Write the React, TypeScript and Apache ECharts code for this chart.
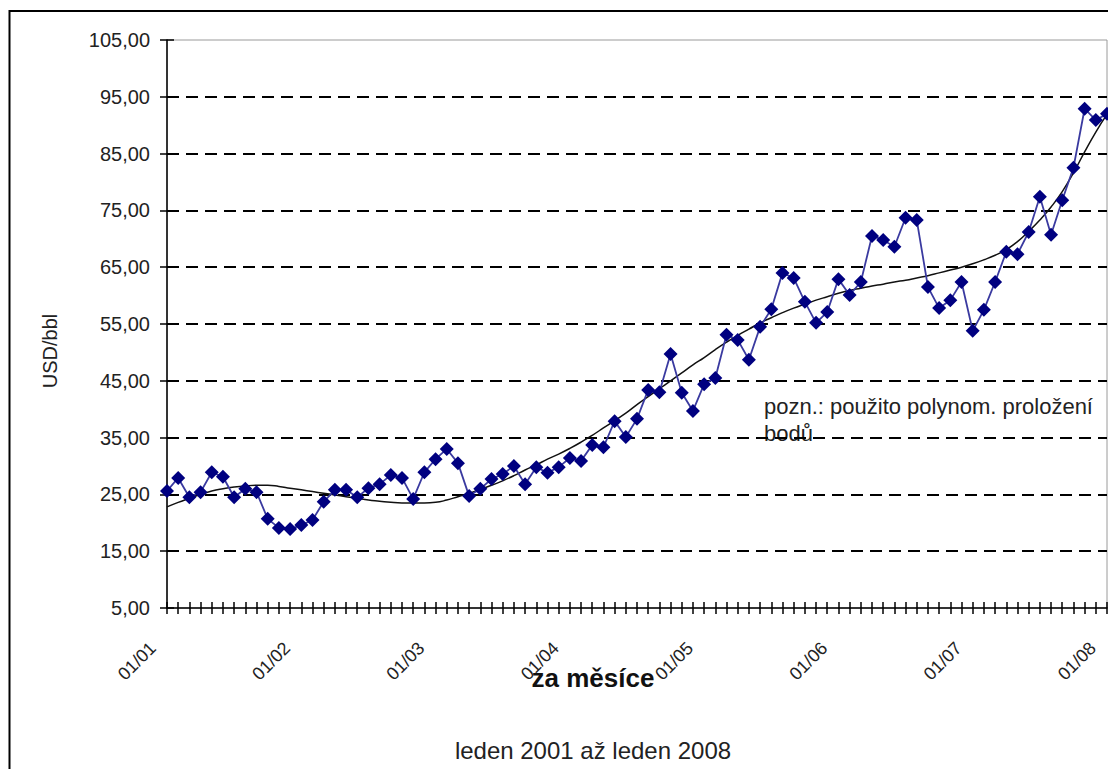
import React, { useEffect, useRef } from "react";
import * as echarts from "echarts";

const years = ["01", "02", "03", "04", "05", "06", "07", "08"];
const months = ["01", "02", "03", "04", "05", "06", "07", "08", "09", "10", "11", "12"];
const categories: string[] = [];
years.forEach((y, yi) => {
  months.forEach((m, mi) => {
    if (yi < years.length - 1 || mi === 0) categories.push(`${m}/${y}`);
  });
});

// monthly price, USD/bbl
const prices = [
  25.6, 27.9, 24.5, 25.4, 28.9, 28.1, 24.5, 26.0, 25.4, 20.7, 19.1, 18.9,
  19.6, 20.5, 23.7, 25.8, 25.8, 24.5, 26.1, 26.8, 28.4, 27.9, 24.2, 28.9,
  31.2, 33.0, 30.5, 24.7, 26.0, 27.7, 28.6, 30.0, 26.8, 29.8, 28.8, 29.8,
  31.4, 30.9, 33.7, 33.3, 37.9, 35.1, 38.3, 43.4, 43.0, 49.7, 42.9, 39.7,
  44.4, 45.5, 53.1, 52.2, 48.7, 54.5, 57.6, 64.0, 63.1, 58.9, 55.2, 57.1,
  62.9, 60.1, 62.4, 70.5, 69.8, 68.6, 73.7, 73.3, 61.5, 57.8, 59.2, 62.4,
  53.8, 57.5, 62.4, 67.7, 67.3, 71.2, 77.4, 70.7, 76.8, 82.5, 92.9, 90.9,
  92.0,
];

// polynomial trend line
const trend = [
  22.8, 23.6, 24.3, 25.0, 25.6, 26.0, 26.3, 26.5, 26.6, 26.6, 26.4, 26.1,
  25.8, 25.5, 25.2, 24.9, 24.6, 24.3, 24.0, 23.8, 23.6, 23.5, 23.5, 23.5,
  23.6, 24.0, 24.6, 25.2, 25.9, 26.6, 27.4, 28.3, 29.3, 30.2, 31.2, 32.1,
  33.1, 34.2, 35.4, 36.7, 38.0, 39.3, 40.8, 42.2, 43.6, 45.0, 46.4, 47.8,
  49.1, 50.5, 51.8, 53.0, 54.1, 55.2, 56.1, 57.0, 57.8, 58.5, 59.2, 59.8,
  60.4, 60.9, 61.3, 61.7, 62.0, 62.4, 62.7, 63.1, 63.5, 64.0, 64.5, 65.0,
  65.6, 66.3, 67.1, 68.1, 69.5, 71.3, 73.3, 75.6, 78.3, 81.6, 85.3, 88.8,
  91.9,
];

const yMin = 5;
const yMax = 105;
const yStep = 10;

const yTitle = "USD/bbl";
const xTitle = "za měsíce";
const subTitle = "leden 2001 až leden 2008";
const note1 = "pozn.: použito polynom. proložení";
const note2 = "bodů";

const FONT = "'Liberation Sans', Arial, sans-serif";

export default function App() {
  const ref = useRef<HTMLDivElement>(null);
  useEffect(() => {
    if (!ref.current) return;
    const chart = echarts.init(ref.current, undefined, { renderer: "svg" });
    const fmt = (v: number) => v.toFixed(2).replace(".", ",");
    chart.setOption({
      animation: false,
      backgroundColor: "#ffffff",
      textStyle: { fontFamily: FONT },
      grid: {
        left: 167,
        right: 1,
        top: 40,
        bottom: 161,
        outerBoundsMode: "none",
        containLabel: false,
        show: true,
        borderColor: "#9a9a9a",
        borderWidth: 1,
        backgroundColor: "transparent",
      },
      xAxis: [
        {
          type: "category",
          data: categories,
          boundaryGap: false,
          position: "bottom",
          axisLine: { lineStyle: { color: "#000", width: 1.5 } },
          axisTick: { show: true, interval: 0, length: 6, lineStyle: { color: "#000", width: 1.5 } },
          axisLabel: {
            interval: 11,
            rotate: 45,
            margin: 23,
            padding: [0, 20, 0, 0],
            fontSize: 18,
            color: "#222",
            fontFamily: FONT,
          },
          splitLine: { show: false },
        },
        {
          type: "category",
          data: categories,
          boundaryGap: false,
          position: "bottom",
          axisLine: { show: false },
          axisTick: { show: true, inside: true, interval: 0, length: 6, lineStyle: { color: "#000", width: 1.5 } },
          axisLabel: { show: false },
          splitLine: { show: false },
        },
      ],
      yAxis: [
        {
          type: "value",
          min: yMin,
          max: yMax,
          interval: yStep,
          position: "left",
          axisLine: { show: true, lineStyle: { color: "#000", width: 1.5 } },
          axisTick: { show: true, length: 7, lineStyle: { color: "#000", width: 1.5 } },
          axisLabel: {
            margin: 17,
            fontSize: 20,
            color: "#222",
            fontFamily: FONT,
            formatter: fmt,
          },
          splitLine: {
            show: true,
            showMinLine: false,
            showMaxLine: false,
            lineStyle: { color: "#000", type: [12, 7], width: 2 },
          },
        },
        {
          type: "value",
          min: yMin,
          max: yMax,
          interval: yStep,
          position: "left",
          axisLine: { show: false },
          axisTick: { show: true, inside: true, length: 7, lineStyle: { color: "#000", width: 1.5 } },
          axisLabel: { show: false },
          splitLine: { show: false },
        },
      ],
      series: [
        {
          type: "line",
          name: "trend",
          data: trend,
          smooth: true,
          showSymbol: false,
          symbol: "none",
          lineStyle: { color: "#111", width: 1.5 },
          z: 2,
        },
        {
          type: "line",
          name: "cena",
          data: prices,
          symbol: "diamond",
          symbolSize: 14,
          showAllSymbol: true,
          itemStyle: { color: "#000080" },
          lineStyle: { color: "#3a3aa0", width: 1.8 },
          z: 3,
        },
      ],
      graphic: [
        {
          type: "rect",
          shape: { x: 9.5, y: 11, width: 1200, height: 800 },
          style: { fill: "none", stroke: "#000", lineWidth: 2 },
          silent: true,
          z: 100,
        },
        {
          type: "text",
          x: 50,
          y: 351,
          rotation: Math.PI / 2,
          style: {
            text: yTitle,
            fontSize: 20,
            fontFamily: FONT,
            fill: "#222",
            textAlign: "center",
            textVerticalAlign: "middle",
          },
        },
        {
          type: "text",
          x: 593,
          y: 678,
          style: {
            text: xTitle,
            fontSize: 26,
            fontWeight: "bold",
            fontFamily: FONT,
            fill: "#111",
            textAlign: "center",
            textVerticalAlign: "middle",
          },
        },
        {
          type: "text",
          x: 593,
          y: 750,
          style: {
            text: subTitle,
            fontSize: 24,
            fontFamily: FONT,
            fill: "#222",
            textAlign: "center",
            textVerticalAlign: "middle",
          },
        },
        {
          type: "text",
          x: 764,
          y: 406,
          style: {
            text: note1,
            fontSize: 22,
            fontFamily: FONT,
            fill: "#222",
            textAlign: "left",
            textVerticalAlign: "middle",
          },
        },
        {
          type: "text",
          x: 764,
          y: 433,
          style: {
            text: note2,
            fontSize: 22,
            fontFamily: FONT,
            fill: "#222",
            textAlign: "left",
            textVerticalAlign: "middle",
          },
        },
      ],
    });
    return () => chart.dispose();
  }, []);
  return (
    <div
      ref={ref}
      style={{ position: "fixed", left: 0, top: 0, width: 1108, height: 769, background: "#fff" }}
    />
  );
}
